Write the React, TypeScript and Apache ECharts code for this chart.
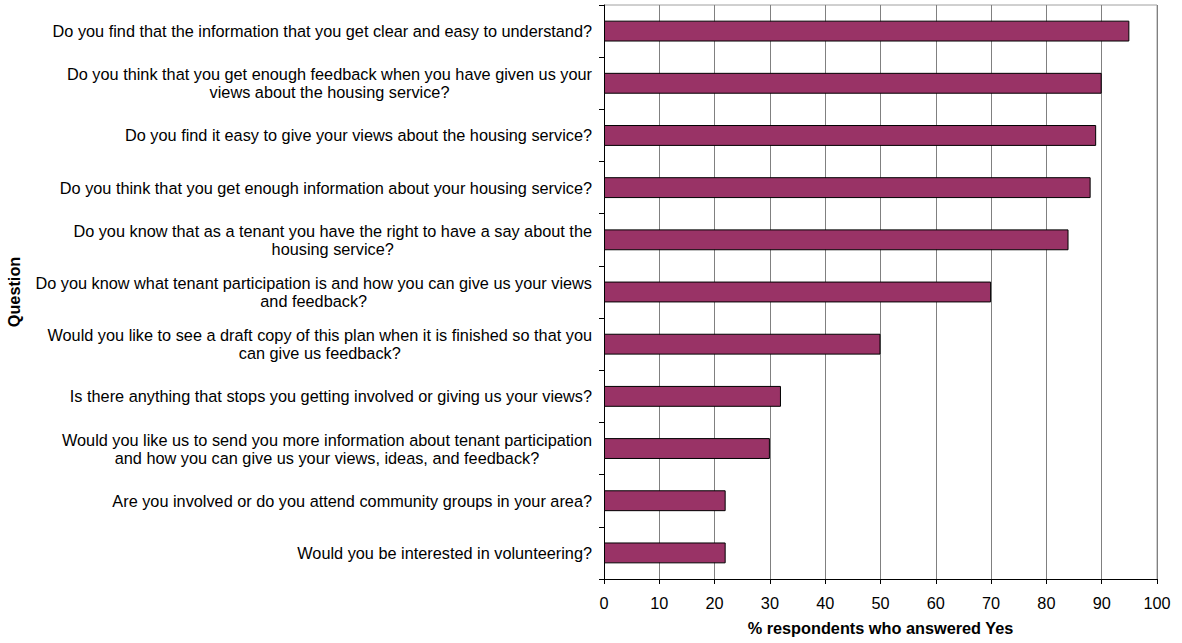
import React, { useEffect, useRef } from "react";
import * as echarts from "echarts";

const questions: string[] = [
  "Do you find that the information that you get clear and easy to understand?",
  "Do you think that you get enough feedback when you have given us your\nviews about the housing service?",
  "Do you find it easy to give your views about the housing service?",
  "Do you think that you get enough information about your housing service?",
  "Do you know that as a tenant you have the right to have a say about the\nhousing service?",
  "Do you know what tenant participation is and how you can give us your views\nand feedback?",
  "Would you like to see a draft copy of this plan when it is finished so that you\ncan give us feedback?",
  "Is there anything that stops you getting involved or giving us your views?",
  "Would you like us to send you more information about tenant participation\nand how you can give us your views, ideas, and feedback?",
  "Are you involved or do you attend community groups in your area?",
  "Would you be interested in volunteering?",
];

const yesPercent: number[] = [95, 90, 89, 88, 84, 70, 50, 32, 30, 22, 22];

const xTicks: number[] = [0, 10, 20, 30, 40, 50, 60, 70, 80, 90, 100];

const FONT = "Arial, 'Liberation Sans', Helvetica, sans-serif";
const FS = 16.3;

export default function App() {
  const ref = useRef<HTMLDivElement>(null);
  useEffect(() => {
    document.body.style.margin = "0";
    if (!ref.current) return;
    const chart = echarts.init(ref.current, undefined, { renderer: "svg" });
    chart.setOption({
      animation: false,
      backgroundColor: "#ffffff",
      textStyle: { fontFamily: FONT },
      grid: { left: 604, right: 25, top: 5, bottom: 64, containLabel: false },
      xAxis: {
        type: "value",
        min: xTicks[0],
        max: xTicks[xTicks.length - 1],
        interval: 10,
        name: "% respondents who answered Yes",
        nameLocation: "middle",
        nameGap: 41,
        nameTextStyle: { fontFamily: FONT, fontSize: FS, fontWeight: "bold", color: "#000" },
        axisLine: { show: true, lineStyle: { color: "#000", width: 1 } },
        axisTick: { show: true, length: 5, lineStyle: { color: "#000" } },
        axisLabel: { fontFamily: FONT, fontSize: FS, color: "#000", margin: 16 },
        splitLine: { show: true, lineStyle: { color: "#808080", width: 1 } },
      },
      yAxis: {
        type: "category",
        inverse: true,
        data: questions,
        name: "Question",
        nameLocation: "middle",
        nameRotate: 90,
        nameGap: 582,
        nameTextStyle: { fontFamily: FONT, fontSize: FS, fontWeight: "bold", color: "#000" },
        axisLine: { show: true, lineStyle: { color: "#000", width: 1 } },
        axisTick: { show: true, length: 5, alignWithLabel: false, lineStyle: { color: "#000" } },
        axisLabel: {
          margin: 12,
          fontFamily: FONT,
          fontSize: FS,
          color: "#000",
          align: "right",
          interval: 0,
          lineHeight: 18,
          formatter: (v: string) =>
            v
              .split("\n")
              .map((s) => "{c|" + s + "}")
              .join("\n"),
          rich: {
            c: { align: "center", fontFamily: FONT, fontSize: FS, color: "#000", lineHeight: 18 },
          },
        },
        splitLine: { show: false },
      },
      series: [
        {
          type: "bar",
          data: yesPercent,
          barWidth: "40%",
          itemStyle: { color: "#993366", borderColor: "#000", borderWidth: 1 },
        },
      ],
      graphic: [
        {
          type: "polyline",
          shape: { points: [[604, 5], [1157, 5], [1157, 579]] },
          style: { stroke: "#a0a0a0", lineWidth: 1, fill: "none" },
          z: 0,
        },
      ],
    });
    return () => chart.dispose();
  }, []);
  return <div ref={ref} style={{ width: 1182, height: 643 }} />;
}
